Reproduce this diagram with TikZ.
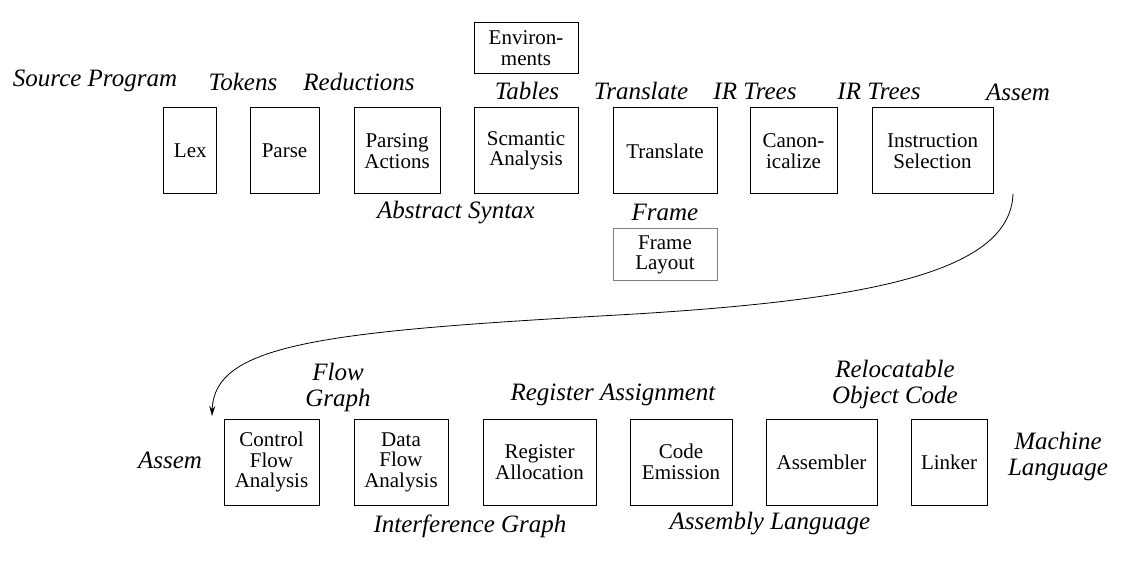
\documentclass[tikz,border=0pt]{standalone}
\usepackage{fontspec}
\setmainfont{Liberation Serif}
\usetikzlibrary{arrows.meta}
\begin{document}
\begin{tikzpicture}[x=1pt,y=-1pt,
  box/.style={draw, line width=1pt, inner sep=0pt, align=center, minimum height=86pt,
    font=\fontsize{21}{20.5}\selectfont},
  lbl/.style={inner sep=0pt, align=center, font=\fontsize{25}{26}\selectfont\itshape},
  flow/.style={line width=0.8pt, -{Stealth[length=10pt,width=6pt]}}]
\useasboundingbox (0,0) rectangle (1130,561);
% top row
\node[box, minimum width=52.7pt] (lex) at (190.3,151) {Lex};
\node[box, minimum width=69pt] (parse) at (284.5,151) {Parse};
\node[box, minimum width=86pt] (pact) at (397,151) {Parsing\\Actions};
\node[box, minimum width=104pt] (sem) at (526,151) {Scmantic\\Analysis};
\node[box, minimum width=104pt, minimum height=51.3pt] (env) at (526,48.3) {Environ-\\ments};
\node[box, minimum width=104pt] (trans) at (665,151) {Translate};
\node[box, minimum width=87pt] (canon) at (793.5,151) {Canon-\\icalize};
\node[box, minimum width=121pt] (isel) at (932.5,151) {Instruction\\Selection};
\node[box, draw=gray, minimum width=104pt, minimum height=52pt] (frame) at (665,255) {Frame\\Layout};
% bottom row
\node[box, minimum width=95pt] (cfa) at (271.5,462) {Control\\Flow\\Analysis};
\node[box, minimum width=94pt] (dfa) at (401,462) {Data\\Flow\\Analysis};
\node[box, minimum width=113pt] (ra) at (539.5,462) {Register\\Allocation};
\node[box, minimum width=102pt] (ce) at (681,462) {Code\\Emission};
\node[box, minimum width=111pt] (asm) at (821.5,462) {Assembler};
\node[box, minimum width=76pt] (link) at (949,462) {Linker};
% labels
\node[lbl] (l1) at (95,81) {Source Program};
\node[lbl] (l2) at (243,82) {Tokens};
\node[lbl] (l3) at (359,82) {Reductions};
\node[lbl] (l4) at (527,91) {Tables};
\node[lbl] (l5) at (641,91) {Translate};
\node[lbl] (l6) at (755,91) {IR Trees};
\node[lbl] (l7) at (879,91) {IR Trees};
\node[lbl] (l8) at (1018,92) {Assem};
\node[lbl] (l9) at (456,213) {Abstract Syntax};
\node[lbl] (l10) at (665,212) {Frame};
\node[lbl] (l11) at (170,460) {Assem};
\node[lbl] (l12) at (338,387) {Flow\\Graph};
\node[lbl] (l13) at (613,395) {Register Assignment};
\node[lbl] (l14) at (895,384) {Relocatable\\Object Code};
\node[lbl] (l15) at (1058,456) {Machine\\Language};
\node[lbl] (l16) at (470,526) {Interference Graph};
\node[lbl] (l17) at (770,524) {Assembly Language};
% connector
\coordinate (cs) at (1013,194);
\coordinate (cm) at (600,316);
\coordinate (ce2) at (212,416);
\draw[flow] (cs) .. controls (1010,275) and (860,302) .. (cm)
  .. controls (320,332) and (214,345) .. (ce2);
\end{tikzpicture}
\end{document}
